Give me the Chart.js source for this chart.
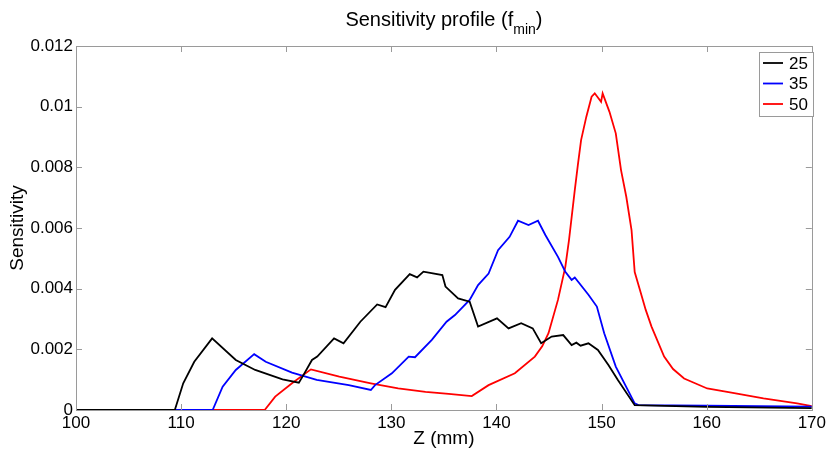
<!DOCTYPE html>
<html>
<head>
<meta charset="utf-8">
<script src="https://cdn.jsdelivr.net/npm/chart.js@4.4.1/dist/chart.umd.min.js"></script>
<style>
html,body{margin:0;padding:0;background:#fff;}
#wrap{width:829px;height:454px;position:relative;}
</style>
</head>
<body>
<div id="wrap"><canvas id="c" width="829" height="454" style="width:829px;height:454px"></canvas></div>
<script>
// ---- data ----
const seriesLabels = ['25', '35', '50'];
const seriesColors = ['#000000', '#0000ff', '#ff0000'];

const z25 = [100, 109.4, 110.2, 111.25, 112.95, 115.2, 117.05, 119.65, 121.2, 121.55, 122.45, 122.95, 124.55, 125.45, 127.05, 128.65, 129.45, 130.35, 131.75, 132.45, 133.05, 134.85, 135.15, 136.35, 137.45, 138.25, 140.05, 141.15, 142.35, 143.45, 144.25, 145.25, 146.35, 147.15, 147.6, 148.0, 148.75, 149.65, 150.65, 151.55, 153.15, 160, 170];
const s25 = [0, 0, 0.00088, 0.00159, 0.00236, 0.00165, 0.00132, 0.00101, 0.0009, 0.0011, 0.00165, 0.00176, 0.00236, 0.0022, 0.00291, 0.00348, 0.00339, 0.00396, 0.00448, 0.00437, 0.00456, 0.00445, 0.00407, 0.00368, 0.00357, 0.00275, 0.00302, 0.00269, 0.00286, 0.00269, 0.0022, 0.00242, 0.00247, 0.00214, 0.00222, 0.00212, 0.0022, 0.00198, 0.00148, 0.00099, 0.00016, 0.0001, 0.00006];

const z35 = [100, 113.0, 113.95, 115.2, 116.95, 118.05, 120.55, 122.9, 125.95, 128.05, 128.45, 130.05, 131.65, 132.25, 133.85, 135.25, 136.05, 137.45, 138.25, 139.25, 140.15, 141.25, 142.05, 143.05, 143.95, 144.65, 145.85, 146.55, 147.15, 147.45, 148.75, 149.55, 150.25, 151.35, 153.15, 153.5, 160, 170];
const s35 = [0, 0, 0.00077, 0.00132, 0.00184, 0.00159, 0.00123, 0.00099, 0.00082, 0.00066, 0.00082, 0.00121, 0.00176, 0.00174, 0.00231, 0.00291, 0.00313, 0.00363, 0.00412, 0.0045, 0.00527, 0.00571, 0.00624, 0.0061, 0.00624, 0.00577, 0.00505, 0.00456, 0.00429, 0.00437, 0.0038, 0.00341, 0.00253, 0.00143, 0.00022, 0.00016, 0.00014, 0.00011];

const z50 = [100, 117.95, 118.95, 120.55, 122.15, 122.35, 125.05, 128.05, 130.65, 133.25, 135.45, 137.65, 139.25, 141.75, 143.65, 144.35, 144.95, 145.85, 146.55, 146.9, 147.45, 147.75, 148.05, 148.55, 149.05, 149.35, 149.95, 150.1, 150.75, 151.35, 151.85, 152.35, 152.85, 153.15, 153.65, 154.2, 154.75, 155.95, 156.8, 157.85, 160.05, 162.35, 165.4, 168.6, 170];
const s50 = [0, 0, 0.00044, 0.00088, 0.00129, 0.00134, 0.0011, 0.00088, 0.00071, 0.0006, 0.00053, 0.00046, 0.00082, 0.00121, 0.00176, 0.0021, 0.00253, 0.00363, 0.00472, 0.0056, 0.00725, 0.0081, 0.0089, 0.00967, 0.01033, 0.01044, 0.01016, 0.01044, 0.00983, 0.00912, 0.00791, 0.00703, 0.00593, 0.00455, 0.00396, 0.0033, 0.00275, 0.00176, 0.00135, 0.00104, 0.00071, 0.00057, 0.00038, 0.00022, 0.00013];

const xTicks = [100, 110, 120, 130, 140, 150, 160, 170];
const yTicks = [0, 0.002, 0.004, 0.006, 0.008, 0.01, 0.012];

const titleMain = 'Sensitivity profile (f';
const titleSub = 'min';
const titleEnd = ')';
const xTitle = 'Z (mm)';
const yTitle = 'Sensitivity';

// ---- chart ----
const FONT = "'Liberation Sans', Arial, Helvetica, sans-serif";
const zs = [z25, z35, z50];
const ss = [s25, s35, s50];
const datasets = seriesLabels.map((lab, i) => ({
  label: lab,
  data: zs[i].map((z, k) => ({x: z, y: ss[i][k]})),
  borderColor: seriesColors[i],
  backgroundColor: seriesColors[i],
  borderWidth: 1.8,
  pointRadius: 0,
  tension: 0,
  fill: false
}));

const decor = {
  id: 'decor',
  afterDraw(chart) {
    const ctx = chart.ctx;
    const a = chart.chartArea;
    const xs = chart.scales.x, ys = chart.scales.y;
    ctx.save();
    ctx.strokeStyle = '#9a9a9a';
    ctx.lineWidth = 1;
    ctx.strokeRect(Math.round(a.left) + 0.5, Math.round(a.top) + 0.5, Math.round(a.right - a.left), Math.round(a.bottom - a.top));
    const tl = 6;
    ctx.beginPath();
    xTicks.forEach(v => {
      const p = Math.round(xs.getPixelForValue(v)) + 0.5;
      ctx.moveTo(p, a.bottom); ctx.lineTo(p, a.bottom - tl);
      ctx.moveTo(p, a.top); ctx.lineTo(p, a.top + tl);
    });
    yTicks.forEach(v => {
      const p = Math.round(ys.getPixelForValue(v)) + 0.5;
      ctx.moveTo(a.left, p); ctx.lineTo(a.left + tl, p);
      ctx.moveTo(a.right, p); ctx.lineTo(a.right - tl, p);
    });
    ctx.stroke();

    // title
    ctx.fillStyle = '#000';
    ctx.textBaseline = 'alphabetic';
    ctx.font = '20px ' + FONT;
    const w1 = ctx.measureText(titleMain).width;
    const w3 = ctx.measureText(titleEnd).width;
    ctx.font = '14px ' + FONT;
    const w2 = ctx.measureText(titleSub).width;
    const cx = (a.left + a.right) / 2;
    let tx = cx - (w1 + w2 + w3) / 2;
    ctx.textAlign = 'left';
    ctx.font = '20px ' + FONT;
    ctx.fillText(titleMain, tx, 26);
    ctx.font = '14px ' + FONT;
    ctx.fillText(titleSub, tx + w1, 34);
    ctx.font = '20px ' + FONT;
    ctx.fillText(titleEnd, tx + w1 + w2, 26);

    // axis titles
    ctx.font = '19px ' + FONT;
    ctx.textAlign = 'center';
    ctx.textBaseline = 'middle';
    ctx.fillText(xTitle, cx, 439);
    ctx.save();
    ctx.translate(18, (a.top + a.bottom) / 2);
    ctx.rotate(-Math.PI / 2);
    ctx.fillText(yTitle, 0, 0);
    ctx.restore();

    // legend
    const lx = 759, ly = 52, lw = 54, lh = 64;
    ctx.fillStyle = '#fff';
    ctx.fillRect(lx, ly, lw, lh);
    ctx.strokeStyle = '#9a9a9a';
    ctx.lineWidth = 1;
    ctx.strokeRect(lx + 0.5, ly + 0.5, lw, lh);
    ctx.font = '17px ' + FONT;
    ctx.textAlign = 'left';
    ctx.textBaseline = 'middle';
    chart.data.datasets.forEach((ds, i) => {
      const y = ly + 11 + i * 20.5;
      ctx.strokeStyle = ds.borderColor;
      ctx.lineWidth = 1.8;
      ctx.beginPath();
      ctx.moveTo(lx + 4, y); ctx.lineTo(lx + 24, y);
      ctx.stroke();
      ctx.fillStyle = '#000';
      ctx.fillText(ds.label, lx + 30, y + 1);
    });
    ctx.restore();
  }
};

new Chart(document.getElementById('c'), {
  type: 'line',
  data: { datasets },
  options: {
    responsive: false,
    animation: false,
    devicePixelRatio: 1,
    layout: { padding: { top: 46, right: 14, left: 0, bottom: 0 } },
    plugins: { legend: { display: false }, title: { display: false }, tooltip: { enabled: false } },
    scales: {
      x: {
        type: 'linear', min: 100, max: 170,
        afterBuildTicks: s => { s.ticks = xTicks.map(v => ({value: v})); },
        afterFit: s => { s.height = 44; },
        grid: { display: false, drawTicks: false },
        border: { display: false },
        ticks: { color: '#000', font: { family: FONT, size: 17 }, padding: 3, maxRotation: 0, callback: v => String(v) }
      },
      y: {
        type: 'linear', min: 0, max: 0.012,
        afterBuildTicks: s => { s.ticks = yTicks.map(v => ({value: v})); },
        afterFit: s => { s.width = 76; },
        grid: { display: false, drawTicks: false },
        border: { display: false },
        ticks: { color: '#000', font: { family: FONT, size: 17 }, padding: 3, callback: v => String(+v.toFixed(3)) }
      }
    }
  },
  plugins: [decor]
});
</script>
</body>
</html>
